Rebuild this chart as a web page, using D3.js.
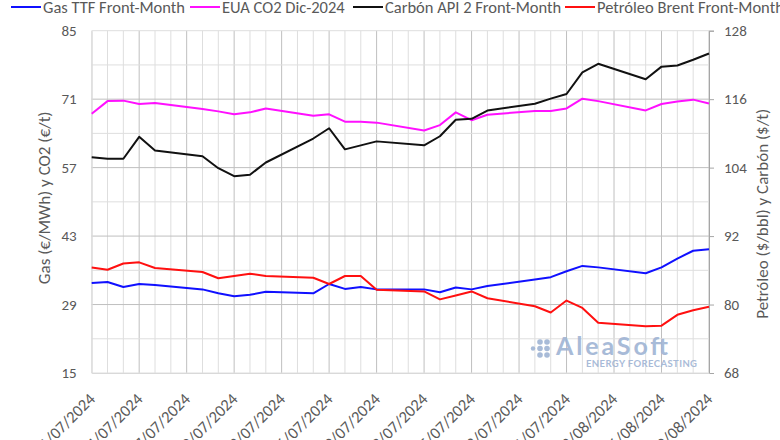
<!DOCTYPE html>
<html>
<head>
<meta charset="utf-8">
<script src="https://cdn.jsdelivr.net/npm/d3@7"></script>
<style>
  body { margin: 0; background: #fff; }
  svg { display: block; font-family: Carlito, Lato, sans-serif; }
</style>
</head>
<body>
<svg width="780" height="440"></svg>
<script>
// trading days shown
var dates = [
  '01/07/2024', '02/07/2024', '03/07/2024', '04/07/2024', '05/07/2024',
  '08/07/2024', '09/07/2024', '10/07/2024', '11/07/2024', '12/07/2024',
  '15/07/2024', '16/07/2024', '17/07/2024', '18/07/2024', '19/07/2024',
  '22/07/2024', '23/07/2024', '24/07/2024', '25/07/2024', '26/07/2024',
  '29/07/2024', '30/07/2024', '31/07/2024', '01/08/2024', '02/08/2024',
  '05/08/2024', '06/08/2024', '07/08/2024', '08/08/2024', '09/08/2024'
]
// left axis (€/MWh, €/t)
var gas = [
  33.4, 33.6, 32.6, 33.2, 33.0,
  32.1, 31.3, 30.7, 31.0, 31.6,
  31.3, 33.2, 32.2, 32.6, 32.1,
  32.1, 31.5, 32.5, 32.1, 32.8,
  34.1, 34.6, 35.8, 36.9, 36.6,
  35.4, 36.6, 38.4, 40.0, 40.3
]
var eua = [
  68.0, 70.6, 70.7, 70.0, 70.2,
  69.0, 68.5, 67.9, 68.3, 69.1,
  67.6, 67.9, 66.4, 66.4, 66.2,
  64.6, 65.7, 68.3, 66.7, 67.8,
  68.6, 68.6, 69.1, 71.1, 70.6,
  68.7, 70.0, 70.5, 70.9, 70.1
]
// right axis ($/t, $/bbl)
var coal = [
  105.8, 105.55, 105.55, 109.4, 107.0,
  106.0, 103.9, 102.5, 102.75, 104.9,
  109.1, 110.9, 107.2, 107.9, 108.6,
  107.9, 109.5, 112.4, 112.55, 114.0,
  115.2, 116.1, 116.9, 120.7, 122.2,
  119.5, 121.7, 121.9, 122.9, 124.0
]
var brent = [
  86.5, 86.1, 87.2, 87.4, 86.4,
  85.7, 84.6, 85.0, 85.4, 85.0,
  84.7, 83.6, 85.0, 85.0, 82.6,
  82.3, 80.9, 81.6, 82.3, 81.1,
  79.7, 78.6, 80.7, 79.4, 76.8,
  76.2, 76.3, 78.2, 79.0, 79.6
]
var tickLabels = [
  '01/07/2024', '04/07/2024', '07/07/2024', '10/07/2024', '13/07/2024',
  '16/07/2024', '19/07/2024', '22/07/2024', '25/07/2024', '28/07/2024',
  '31/07/2024', '03/08/2024', '06/08/2024', '09/08/2024'
]
var leftTicks = [15, 29, 43, 57, 71, 85]
var rightTicks = [68, 80, 92, 104, 116, 128]

var seriesNames = ['Gas TTF Front-Month', 'EUA CO2 Dic-2024', 'Carbón API 2 Front-Month', 'Petróleo Brent Front-Month']
var seriesColors = ['#1010ff', '#ff10ff', '#111111', '#ff1010']

var svg = d3.select('svg')
var margin = {top: 30.7, right: 71, bottom: 67, left: 91.7}
var width = 780
var height = 440
var parse = d3.timeParse('%d/%m/%Y')
var days = dates.map(parse)
var tickDays = tickLabels.map(parse)

var x = d3.scaleTime()
  .domain([tickDays[0], tickDays[tickDays.length - 1]])
  .range([margin.left, width - margin.right])
var yL = d3.scaleLinear().domain([15, 85]).range([height - margin.bottom, margin.top])
var yR = d3.scaleLinear().domain([68, 128]).range([height - margin.bottom, margin.top])

var grid = svg.append('g')

// vertical grid, one per calendar day, darker every 3 days
var allDays = d3.timeDay.range(x.domain()[0], d3.timeDay.offset(x.domain()[1], 1))
grid.selectAll('line.v').data(allDays).enter().append('line')
  .attr('x1', d => x(d)).attr('x2', d => x(d))
  .attr('y1', margin.top).attr('y2', height - margin.bottom)
  .attr('stroke', (d, i) => (i % 3 === 0 && i > 0) ? '#bfbfbf' : '#dedede')
  .attr('stroke-width', 1)

// horizontal grid, every 7 units, darker at labelled values
var hVals = d3.range(15, 86, 7)
grid.selectAll('line.h').data(hVals).enter().append('line')
  .attr('x1', margin.left).attr('x2', width - margin.right)
  .attr('y1', d => yL(d)).attr('y2', d => yL(d))
  .attr('stroke', d => (leftTicks.indexOf(d) >= 0 && d !== 85 && d !== 15) ? '#bfbfbf' : '#dedede')
  .attr('stroke-width', 1)

// watermark
var wm = svg.append('g').attr('fill', '#9fb4d4').attr('opacity', 0.9)
var dotPos = [[0, 1], [1, 0], [1, 1], [1, 2], [2, 0], [2, 1], [2, 2]]
wm.selectAll('circle').data(dotPos).enter().append('circle')
  .attr('cx', d => 533 + d[0] * 7)
  .attr('cy', d => 342 + d[1] * 6.5)
  .attr('r', d => d[0] === 0 ? 2.2 : 2.8)
wm.append('text').attr('x', 556).attr('y', 355)
  .attr('font-family', 'Lato, sans-serif').attr('font-weight', 'bold').attr('font-size', 25)
  .attr('textLength', 112).text('AleaSoft')
wm.append('text').attr('x', 586).attr('y', 367)
  .attr('font-family', 'Lato, sans-serif').attr('font-weight', 'bold').attr('font-size', 9.5)
  .attr('textLength', 111).text('ENERGY FORECASTING')

// left axis
var leftAxis = svg.append('g')
  .attr('transform', `translate(${margin.left},0)`)
  .call(d3.axisLeft(yL).tickValues(leftTicks).tickSize(0).tickPadding(15))
leftAxis.select('.domain').attr('stroke', '#d9d9d9')
leftAxis.selectAll('text').attr('font-size', 15).attr('fill', '#595959').attr('font-family', 'Carlito, Lato, sans-serif')

// right axis
var rightAxis = svg.append('g')
  .attr('transform', `translate(${width - margin.right},0)`)
  .call(d3.axisRight(yR).tickValues(rightTicks).tickSize(5).tickPadding(10))
rightAxis.select('.domain').attr('stroke', '#a6a6a6')
rightAxis.selectAll('.tick line').attr('stroke', '#a6a6a6')
rightAxis.selectAll('text').attr('font-size', 15).attr('fill', '#595959').attr('font-family', 'Carlito, Lato, sans-serif')

// bottom axis
var bottomAxis = svg.append('g')
  .attr('transform', `translate(0,${height - margin.bottom})`)
  .call(d3.axisBottom(x).tickValues(tickDays).tickSize(0).tickFormat(d3.timeFormat('%d/%m/%Y')))
bottomAxis.select('.domain').attr('stroke', '#d9d9d9')
bottomAxis.selectAll('text')
  .attr('font-size', 16.5).attr('fill', '#595959').attr('font-family', 'Carlito, Lato, sans-serif')
  .attr('text-anchor', 'end')
  .attr('dy', 0).attr('y', 0)
  .attr('transform', 'translate(4,27) rotate(-45)')

// axis titles
svg.append('text')
  .attr('transform', `translate(50,${(margin.top + height - margin.bottom) / 2 - 4}) rotate(-90)`)
  .attr('text-anchor', 'middle').attr('font-size', 17).attr('fill', '#595959')
  .text('Gas (€/MWh) y CO2 (€/t)')
svg.append('text')
  .attr('transform', `translate(768,${(margin.top + height - margin.bottom) / 2 + 12}) rotate(-90)`)
  .attr('text-anchor', 'middle').attr('font-size', 17).attr('fill', '#595959')
  .text('Petróleo ($/bbl) y Carbón ($/t)')

// lines
var lineL = d3.line().x((d, i) => x(days[i])).y(d => yL(d))
var lineR = d3.line().x((d, i) => x(days[i])).y(d => yR(d))
var seriesData = [[gas, lineL], [eua, lineL], [coal, lineR], [brent, lineR]]
svg.append('g').selectAll('path').data(seriesData).enter().append('path')
  .attr('d', d => d[1](d[0]))
  .attr('fill', 'none')
  .attr('stroke', (d, i) => seriesColors[i])
  .attr('stroke-width', 2)
  .attr('stroke-linejoin', 'round')

// legend
var legendX = [11, 190, 353, 565]
var legend = svg.append('g').selectAll('g').data(seriesNames).enter().append('g')
  .attr('transform', (d, i) => `translate(${legendX[i]},7)`)
legend.append('line').attr('x1', 0).attr('x2', 30).attr('y1', 0).attr('y2', 0)
  .attr('stroke', (d, i) => seriesColors[i]).attr('stroke-width', 2)
legend.append('text').attr('x', 32).attr('y', 5.5)
  .attr('font-size', 16.5).attr('fill', '#595959')
  .text(d => d)
</script>
</body>
</html>
